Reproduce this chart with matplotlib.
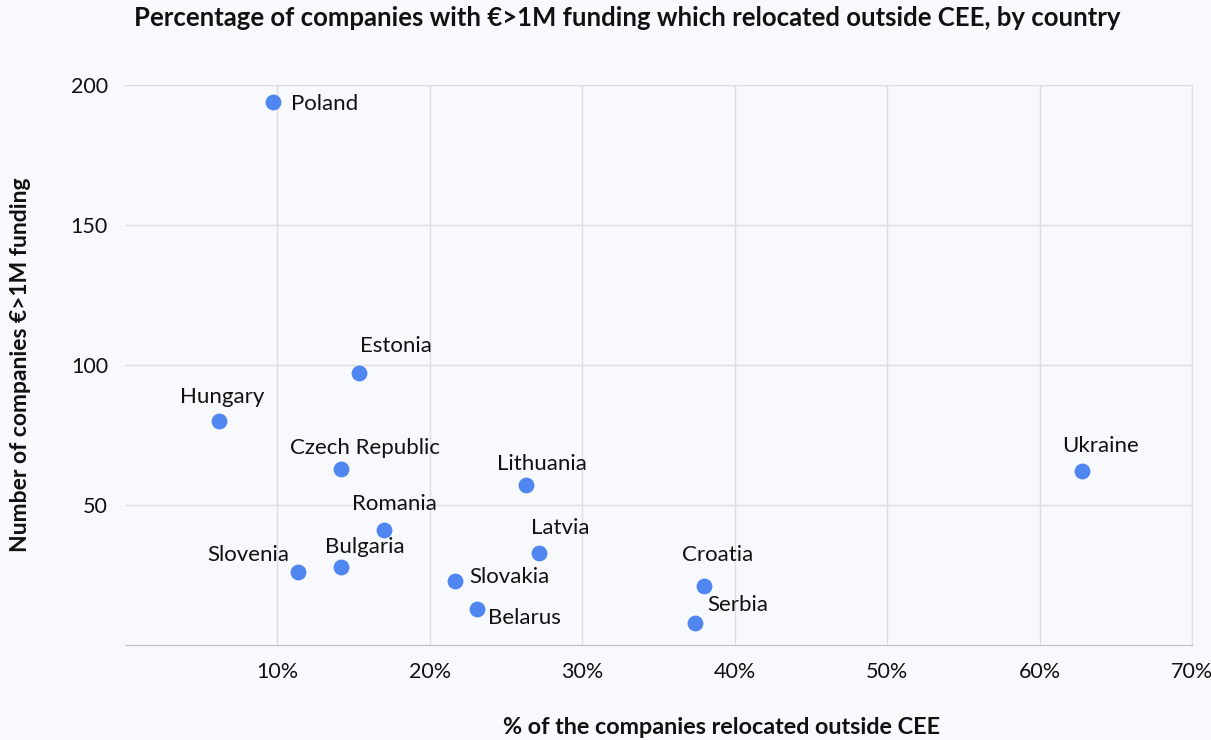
import matplotlib
matplotlib.use('Agg')
import matplotlib.pyplot as plt
from matplotlib.ticker import FuncFormatter

# Data
countries = ['Poland', 'Estonia', 'Hungary', 'Czech Republic', 'Lithuania', 'Ukraine',
             'Romania', 'Latvia', 'Slovenia', 'Bulgaria', 'Slovakia', 'Croatia',
             'Belarus', 'Serbia']
relocated_pct = [9.7, 15.4, 6.2, 14.2, 26.3, 62.8, 17.0, 27.2, 11.4, 14.2, 21.7, 38.0, 23.1, 37.4]
companies = [194, 97, 80, 63, 57, 62, 41, 33, 26, 28, 23, 21, 13, 8]

# label placement (pixel offsets from the point, horizontal alignment)
label_offsets = {
    'Poland': (18, -2, 'left'),
    'Estonia': (37, 27, 'center'),
    'Hungary': (3, 24, 'center'),
    'Czech Republic': (24, 21, 'center'),
    'Lithuania': (16, 21, 'center'),
    'Ukraine': (18, 25, 'center'),
    'Romania': (11, 26, 'center'),
    'Latvia': (21, 25, 'center'),
    'Slovenia': (-50, 17, 'center'),
    'Bulgaria': (24, 20, 'center'),
    'Slovakia': (14, 4, 'left'),
    'Croatia': (14, 31, 'center'),
    'Belarus': (11, -9, 'left'),
    'Serbia': (43, 18, 'center'),
}

bg = '#f8f9fc'
grid_col = '#dcdde3'
dot_col = '#4f86f0'
font = ['Lato', 'DejaVu Sans']
plt.rcParams['font.family'] = font

fig = plt.figure(figsize=(12.11, 7.40), dpi=100, facecolor=bg)
ax = fig.add_axes([0.1029, 0.1284, 0.8814, 0.7567], facecolor=bg)

ax.scatter(relocated_pct, companies, s=130, color=dot_col, zorder=3, linewidths=0)

for name, x, y in zip(countries, relocated_pct, companies):
    dx, dy, ha = label_offsets[name]
    ax.annotate(name, (x, y), xytext=(dx, dy), textcoords='offset pixels',
                ha=ha, va='center', fontsize=16, color='#111111', zorder=4)

ax.set_xlim(0, 70)
ax.set_ylim(0, 200)
ax.set_xticks([10, 20, 30, 40, 50, 60, 70])
ax.set_yticks([50, 100, 150, 200])
ax.xaxis.set_major_formatter(FuncFormatter(lambda v, p: f'{int(v)}%'))
ax.grid(True, color=grid_col, linewidth=1, zorder=0)
ax.set_axisbelow(True)

for side in ['top', 'left']:
    ax.spines[side].set_visible(False)
ax.spines['right'].set_color(grid_col)
ax.spines['bottom'].set_color('#bfc0c6')
ax.tick_params(axis='both', length=0, labelsize=15.5, colors='#111111')
ax.tick_params(axis='x', pad=12)
ax.tick_params(axis='y', pad=12)

fig.text(0.518, 0.975, 'Percentage of companies with €>1M funding which relocated outside CEE, by country',
         ha='center', va='center', fontsize=18.5, fontweight='bold', color='#111111')
fig.text(0.596, 0.017, '% of the companies relocated outside CEE',
         ha='center', va='center', fontsize=16.8, fontweight='bold', color='#111111')
fig.text(0.017, 0.507, 'Number of companies €>1M funding', rotation=90,
         ha='center', va='center', fontsize=16.5, fontweight='bold', color='#111111')

fig.savefig('out.png', dpi=100, facecolor=bg)
